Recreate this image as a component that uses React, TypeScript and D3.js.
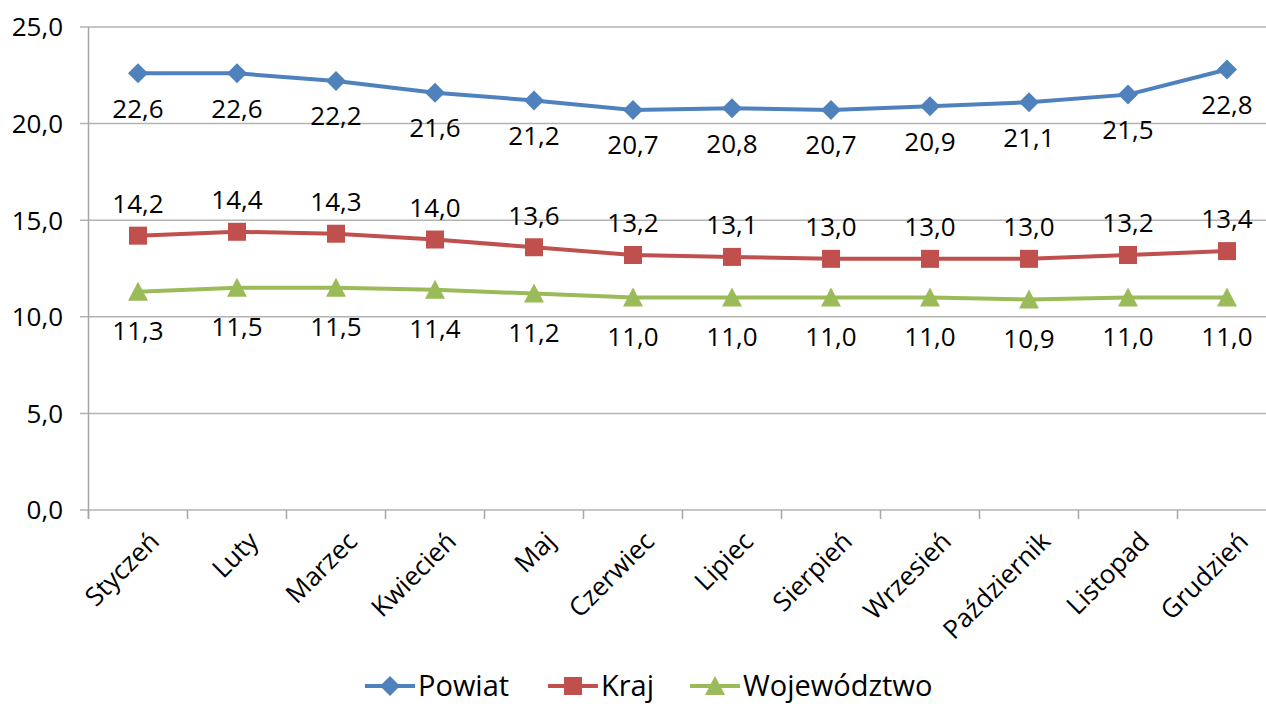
import * as d3 from "d3";
import React, { useEffect, useRef } from "react";

const months = [
  "Styczeń", "Luty", "Marzec", "Kwiecień", "Maj", "Czerwiec",
  "Lipiec", "Sierpień", "Wrzesień", "Październik", "Listopad", "Grudzień",
];
const powiat = [22.6, 22.6, 22.2, 21.6, 21.2, 20.7, 20.8, 20.7, 20.9, 21.1, 21.5, 22.8];
const kraj = [14.2, 14.4, 14.3, 14.0, 13.6, 13.2, 13.1, 13.0, 13.0, 13.0, 13.2, 13.4];
const wojewodztwo = [11.3, 11.5, 11.5, 11.4, 11.2, 11.0, 11.0, 11.0, 11.0, 10.9, 11.0, 11.0];
const yTicks = [0, 5, 10, 15, 20, 25];

const W = 1266;
const H = 706;
const FONT = "'Open Sans', sans-serif";

const fmt = (v: number) => v.toFixed(1).replace(".", ",");

const App = () => {
  const ref = useRef<SVGSVGElement>(null);

  useEffect(() => {
    const svg = d3.select(ref.current);
    svg.selectAll("*").remove();

    const x = d3.scaleBand().domain(months).range([88.5, 1276.5]);
    const y = d3.scaleLinear().domain([0, 25]).range([510, 27]);
    const cx = (m: string) => (x(m) as number) + x.bandwidth() / 2;

    svg.append("rect").attr("width", W).attr("height", H).attr("fill", "white");

    // gridlines
    svg.append("g")
      .selectAll("line")
      .data(yTicks)
      .enter()
      .append("line")
      .attr("x1", 80)
      .attr("x2", W)
      .attr("y1", (d) => y(d))
      .attr("y2", (d) => y(d))
      .attr("stroke", "#b3b3b3")
      .attr("stroke-width", 1.5);

    // y axis line
    svg.append("line")
      .attr("x1", 88.5).attr("x2", 88.5)
      .attr("y1", y(25)).attr("y2", 519)
      .attr("stroke", "#a6a6a6").attr("stroke-width", 1.5);

    // x ticks at band boundaries
    svg.append("g")
      .selectAll("line")
      .data(months)
      .enter()
      .append("line")
      .attr("x1", (d) => x(d) as number)
      .attr("x2", (d) => x(d) as number)
      .attr("y1", 510)
      .attr("y2", 519)
      .attr("stroke", "#a6a6a6")
      .attr("stroke-width", 1.5);

    svg.append("g")
      .selectAll("text")
      .data(yTicks)
      .enter()
      .append("text")
      .attr("x", 63)
      .attr("y", (d) => y(d))
      .attr("dy", "0.36em")
      .attr("text-anchor", "end")
      .attr("font-family", FONT)
      .attr("font-size", 26)
      .attr("fill", "#000")
      .text((d) => fmt(d));

    svg.append("g")
      .selectAll("text")
      .data(months)
      .enter()
      .append("text")
      .attr("transform", (d) => `translate(${cx(d) + 10},${530}) rotate(-45)`)
      .attr("text-anchor", "end")
      .attr("dy", "0.7em")
      .attr("font-family", FONT)
      .attr("font-size", 26)
      .attr("fill", "#000")
      .text((d) => d);

    const series = [
      { name: "Powiat", values: powiat, color: "#4f81bd", marker: "diamond", off: 35 },
      { name: "Kraj", values: kraj, color: "#c0504d", marker: "square", off: -32 },
      { name: "Województwo", values: wojewodztwo, color: "#9bbb59", marker: "triangle", off: 39 },
    ];

    const symbolPath = (kind: string) => {
      if (kind === "diamond") return "M0,-10L10,0L0,10L-10,0Z";
      if (kind === "square") return "M-9,-9H9V9H-9Z";
      return "M0,-10L10,9L-10,9Z";
    };

    const line = d3.line<number>()
      .x((_, i) => cx(months[i]))
      .y((d) => y(d));

    series.forEach((s) => {
      const g = svg.append("g");
      g.append("path")
        .attr("d", line(s.values) as string)
        .attr("fill", "none")
        .attr("stroke", s.color)
        .attr("stroke-width", 4)
        .attr("stroke-linejoin", "round");
      g.selectAll("path.m")
        .data(s.values)
        .enter()
        .append("path")
        .attr("class", "m")
        .attr("d", symbolPath(s.marker))
        .attr("transform", (d, i) => `translate(${cx(months[i])},${y(d)})`)
        .attr("fill", s.color);
      g.selectAll("text")
        .data(s.values)
        .enter()
        .append("text")
        .attr("x", (_, i) => cx(months[i]))
        .attr("y", (d) => y(d) + s.off)
        .attr("dy", "0.36em")
        .attr("text-anchor", "middle")
        .attr("font-family", FONT)
        .attr("font-size", 26)
        .attr("fill", "#000")
        .text((d) => fmt(d));
    });

    // legend
    const legendY = 686;
    const legendX = [365, 548, 690];
    series.forEach((s, i) => {
      const g = svg.append("g").attr("transform", `translate(${legendX[i]},${legendY})`);
      g.append("line")
        .attr("x1", 0).attr("x2", 50)
        .attr("stroke", s.color).attr("stroke-width", 4);
      g.append("path")
        .attr("d", symbolPath(s.marker))
        .attr("transform", "translate(25,0)")
        .attr("fill", s.color);
      g.append("text")
        .attr("x", 53)
        .attr("dy", "0.36em")
        .attr("font-family", FONT)
        .attr("font-size", 29)
        .attr("fill", "#000")
        .text(s.name);
    });
  }, []);

  return (
    <svg
      ref={ref}
      width={W}
      height={H}
      style={{ position: "absolute", left: 0, top: 0 }}
    />
  );
};

export default App;
